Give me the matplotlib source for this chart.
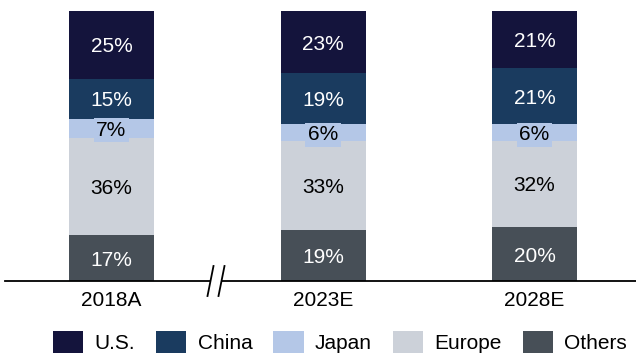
import numpy as np
import matplotlib.pyplot as plt
from matplotlib.patches import Patch

plt.rcParams['font.family'] = ['Liberation Sans', 'DejaVu Sans']

years = ['2018A', '2023E', '2028E']
regions = ['U.S.', 'China', 'Japan', 'Europe', 'Others']
others = [17, 19, 20]
europe = [36, 33, 32]
japan = [7, 6, 6]
china = [15, 19, 21]
us = [25, 23, 21]

colors = {'U.S.': '#14143c', 'China': '#1a3b5f', 'Japan': '#b4c7e7',
          'Europe': '#ccd1d9', 'Others': '#474f57'}
text_col = {'U.S.': 'white', 'China': 'white', 'Japan': 'black',
            'Europe': 'black', 'Others': 'white'}

fig = plt.figure(figsize=(6.36, 3.56), dpi=100)
W, H = 636, 356
ax = fig.add_axes([5 / W, (H - 281) / H, 631 / W, 270 / H])

x = np.arange(len(years))
spacing = 211.5
ax.set_xlim(-106.5 / spacing, 2 + 101.5 / spacing)
ax.set_ylim(0, 100)

fs = 15

stack = [('Others', others), ('Europe', europe), ('Japan', japan),
         ('China', china), ('U.S.', us)]
bottom = np.zeros(len(years))
for name, vals in stack:
    vals = np.array(vals, dtype=float)
    ax.bar(x, vals, width=85 / spacing, bottom=bottom, color=colors[name],
           edgecolor='none', label=name)
    for xi, b, v in zip(x, bottom, vals):
        kw = {}
        if name == 'Japan':
            kw['bbox'] = dict(boxstyle='square,pad=0.12', fc=colors[name], ec='none')
        ax.text(xi, b + v / 2, f'{int(v)}%', ha='center', va='center_baseline',
                fontsize=fs, color=text_col[name], **kw)
    bottom += vals

for s in ax.spines.values():
    s.set_visible(False)
ax.set_yticks([])
ax.set_xticks(x)
ax.set_xticklabels(years, fontsize=fs)
ax.tick_params(axis='x', length=0, pad=7)

# axis line with a break between the first two bars
brk = (216 - 111.5) / spacing
gap = 6 / spacing
xl = ax.get_xlim()
ax.plot([xl[0], brk - gap], [0, 0], color='black', lw=1.3, clip_on=False)
ax.plot([brk + gap, xl[1]], [0, 0], color='black', lw=1.3, clip_on=False)
dy = 15 * 100 / 270
for off in (-5.5, 5.5):
    cx = brk + off / spacing
    ax.plot([cx - 3 / spacing, cx + 3 / spacing], [-dy, dy], color='black',
            lw=1.3, clip_on=False)

handles = [Patch(facecolor=colors[r], edgecolor='none') for r in regions]
fig.legend(handles, regions, loc='center left', bbox_to_anchor=(53 / W, (H - 342) / H),
           ncol=5, frameon=False, fontsize=fs, handlelength=1.45, handleheight=1.2,
           handletextpad=0.55, columnspacing=1.0, borderpad=0, borderaxespad=0)

fig.savefig('out.png', dpi=100)
